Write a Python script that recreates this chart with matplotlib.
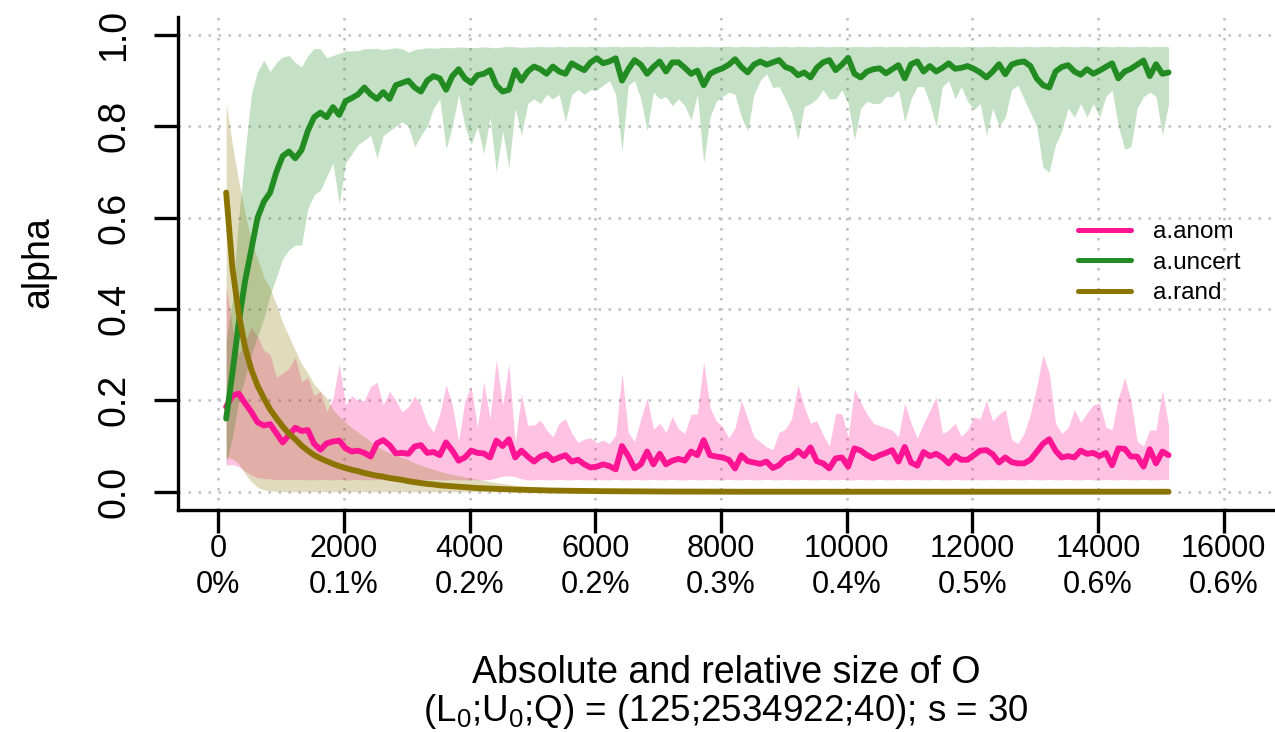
import numpy as np
import matplotlib
matplotlib.use("Agg")
import matplotlib.pyplot as plt
from matplotlib.lines import Line2D

plt.rcParams['font.family'] = ['Liberation Sans', 'DejaVu Sans']
plt.rcParams['mathtext.fontset'] = 'custom'
plt.rcParams['mathtext.rm'] = 'Liberation Sans'
plt.rcParams['mathtext.it'] = 'Liberation Sans:italic'

# sample sizes |O| (every 100 from 125)
sizes = np.arange(125, 15126, 100)

# a.anom : median and band
anom_med = [
    0.186, 0.21, 0.215, 0.194, 0.175, 0.152, 0.145, 0.148, 0.128, 0.108,
    0.124, 0.14, 0.133, 0.135, 0.105, 0.092, 0.106, 0.11, 0.112, 0.095,
    0.088, 0.09, 0.085, 0.077, 0.106, 0.113, 0.102, 0.084, 0.085, 0.083,
    0.099, 0.102, 0.085, 0.087, 0.08, 0.108, 0.09, 0.068, 0.075, 0.09,
    0.085, 0.084, 0.075, 0.112, 0.10, 0.115, 0.075, 0.09, 0.077, 0.066,
    0.077, 0.082, 0.069, 0.075, 0.08, 0.066, 0.07, 0.06, 0.053, 0.055,
    0.06, 0.056, 0.049, 0.10, 0.078, 0.051, 0.06, 0.088, 0.06, 0.083,
    0.06, 0.068, 0.072, 0.068, 0.088, 0.08, 0.113, 0.08, 0.077, 0.075,
    0.07, 0.051, 0.08, 0.067, 0.064, 0.061, 0.066, 0.052, 0.058, 0.072,
    0.076, 0.09, 0.078, 0.097, 0.067, 0.062, 0.051, 0.073, 0.075, 0.055,
    0.095, 0.09, 0.08, 0.073, 0.08, 0.085, 0.091, 0.066, 0.098, 0.064,
    0.057, 0.087, 0.078, 0.083, 0.075, 0.062, 0.079, 0.07, 0.07, 0.08,
    0.09, 0.091, 0.082, 0.064, 0.075, 0.065, 0.062, 0.062, 0.07, 0.087,
    0.105, 0.115, 0.09, 0.075, 0.078, 0.075, 0.09, 0.083, 0.085, 0.078,
    0.085, 0.058, 0.095, 0.094, 0.077, 0.077, 0.055, 0.093, 0.062, 0.088,
    0.08]
anom_lo = [
    0.058, 0.06, 0.055, 0.045, 0.036, 0.031, 0.029, 0.028, 0.027, 0.027,
    0.027, 0.026, 0.027, 0.026, 0.026, 0.027, 0.026, 0.026, 0.027, 0.026,
    0.026, 0.027, 0.026, 0.026, 0.027, 0.026, 0.026, 0.027, 0.026, 0.026,
    0.027, 0.026, 0.026, 0.027, 0.026, 0.026, 0.027, 0.026, 0.026, 0.027,
    0.026, 0.026, 0.027, 0.03, 0.034, 0.035, 0.033, 0.028, 0.026, 0.026,
    0.027, 0.026, 0.026, 0.027, 0.026, 0.026, 0.027, 0.026, 0.026, 0.027,
    0.026, 0.026, 0.027, 0.026, 0.026, 0.027, 0.026, 0.026, 0.027, 0.026,
    0.026, 0.027, 0.026, 0.026, 0.027, 0.026, 0.026, 0.027, 0.026, 0.026,
    0.027, 0.026, 0.026, 0.027, 0.026, 0.026, 0.027, 0.026, 0.026, 0.027,
    0.026, 0.026, 0.027, 0.026, 0.026, 0.027, 0.026, 0.026, 0.027, 0.026,
    0.026, 0.027, 0.026, 0.026, 0.027, 0.026, 0.026, 0.027, 0.026, 0.026,
    0.027, 0.026, 0.026, 0.027, 0.026, 0.026, 0.027, 0.026, 0.026, 0.027,
    0.026, 0.026, 0.027, 0.026, 0.026, 0.027, 0.026, 0.026, 0.027, 0.026,
    0.026, 0.027, 0.026, 0.026, 0.027, 0.026, 0.026, 0.027, 0.026, 0.026,
    0.027, 0.026, 0.026, 0.027, 0.026, 0.026, 0.027, 0.026, 0.026, 0.027,
    0.026]
anom_hi = [
    0.45, 0.36, 0.30, 0.33, 0.36, 0.34, 0.31, 0.30, 0.25, 0.26,
    0.27, 0.295, 0.24, 0.25, 0.21, 0.22, 0.175, 0.205, 0.28, 0.19,
    0.21, 0.20, 0.20, 0.23, 0.24, 0.19, 0.22, 0.20, 0.175, 0.186,
    0.21, 0.19, 0.15, 0.13, 0.17, 0.234, 0.19, 0.11, 0.20, 0.23,
    0.14, 0.241, 0.16, 0.29, 0.19, 0.28, 0.106, 0.215, 0.145, 0.146,
    0.157, 0.135, 0.12, 0.15, 0.16, 0.128, 0.108, 0.115, 0.118, 0.107,
    0.113, 0.105, 0.125, 0.26, 0.13, 0.11, 0.16, 0.205, 0.137, 0.15,
    0.13, 0.165, 0.137, 0.128, 0.17, 0.17, 0.285, 0.185, 0.155, 0.143,
    0.118, 0.14, 0.20, 0.16, 0.12, 0.11, 0.098, 0.092, 0.13, 0.137,
    0.16, 0.234, 0.186, 0.15, 0.155, 0.125, 0.10, 0.172, 0.17, 0.12,
    0.225, 0.195, 0.17, 0.15, 0.145, 0.14, 0.135, 0.12, 0.194, 0.15,
    0.117, 0.15, 0.178, 0.208, 0.128, 0.135, 0.15, 0.121, 0.135, 0.164,
    0.16, 0.20, 0.155, 0.17, 0.18, 0.115, 0.105, 0.128, 0.17, 0.23,
    0.30, 0.26, 0.15, 0.128, 0.14, 0.18, 0.152, 0.172, 0.19, 0.194,
    0.142, 0.135, 0.205, 0.25, 0.20, 0.11, 0.10, 0.135, 0.135, 0.222,
    0.145]

# a.uncert : median and band
uncert_med = [
    0.16, 0.26, 0.37, 0.46, 0.53, 0.60, 0.635, 0.655, 0.70, 0.735,
    0.745, 0.73, 0.748, 0.79, 0.82, 0.83, 0.82, 0.842, 0.825, 0.855,
    0.862, 0.87, 0.885, 0.87, 0.86, 0.875, 0.86, 0.89, 0.895, 0.90,
    0.885, 0.876, 0.90, 0.91, 0.905, 0.88, 0.91, 0.925, 0.905, 0.895,
    0.912, 0.915, 0.923, 0.89, 0.876, 0.88, 0.923, 0.90, 0.92, 0.931,
    0.925, 0.915, 0.931, 0.92, 0.915, 0.938, 0.93, 0.923, 0.94, 0.949,
    0.938, 0.942, 0.949, 0.90, 0.925, 0.945, 0.935, 0.915, 0.93, 0.942,
    0.92, 0.94, 0.94, 0.928, 0.915, 0.922, 0.89, 0.915, 0.922, 0.927,
    0.935, 0.947, 0.93, 0.918, 0.935, 0.942, 0.935, 0.94, 0.945, 0.93,
    0.925, 0.912, 0.918, 0.907, 0.928, 0.94, 0.945, 0.923, 0.935, 0.95,
    0.915, 0.907, 0.92, 0.925, 0.927, 0.916, 0.925, 0.934, 0.905, 0.936,
    0.942, 0.92, 0.932, 0.92, 0.928, 0.938, 0.926, 0.928, 0.932, 0.926,
    0.918, 0.907, 0.92, 0.936, 0.914, 0.935, 0.94, 0.942, 0.932, 0.905,
    0.89, 0.885, 0.92, 0.93, 0.934, 0.92, 0.913, 0.925, 0.915, 0.922,
    0.93, 0.938, 0.905, 0.92, 0.926, 0.935, 0.944, 0.91, 0.936, 0.915,
    0.918]
uncert_lo = [
    0.06, 0.12, 0.20, 0.25, 0.30, 0.34, 0.38, 0.43, 0.47, 0.51,
    0.53, 0.54, 0.54, 0.62, 0.65, 0.66, 0.69, 0.72, 0.63, 0.72,
    0.74, 0.76, 0.77, 0.78, 0.73, 0.78, 0.79, 0.80, 0.81, 0.80,
    0.755, 0.78, 0.80, 0.84, 0.86, 0.75, 0.80, 0.87, 0.80, 0.76,
    0.80, 0.74, 0.82, 0.70, 0.79, 0.71, 0.84, 0.78, 0.85, 0.86,
    0.85, 0.87, 0.86, 0.87, 0.81, 0.87, 0.88, 0.87, 0.88, 0.88,
    0.89, 0.90, 0.87, 0.745, 0.89, 0.90, 0.86, 0.79, 0.875, 0.86,
    0.865, 0.845, 0.86, 0.845, 0.814, 0.87, 0.72, 0.82, 0.855, 0.865,
    0.875, 0.87, 0.82, 0.79, 0.87, 0.90, 0.915, 0.885, 0.887, 0.86,
    0.83, 0.77, 0.843, 0.85, 0.86, 0.88, 0.86, 0.86, 0.88, 0.85,
    0.77, 0.84, 0.855, 0.85, 0.85, 0.865, 0.865, 0.88, 0.81, 0.86,
    0.887, 0.887, 0.85, 0.80, 0.887, 0.90, 0.86, 0.887, 0.855, 0.836,
    0.85, 0.78, 0.84, 0.80, 0.82, 0.88, 0.89, 0.86, 0.83, 0.80,
    0.71, 0.70, 0.76, 0.79, 0.84, 0.82, 0.85, 0.82, 0.85, 0.82,
    0.865, 0.88, 0.80, 0.75, 0.755, 0.84, 0.865, 0.875, 0.865, 0.78,
    0.85]
uncert_hi = [
    0.33, 0.42, 0.60, 0.74, 0.87, 0.92, 0.945, 0.92, 0.94, 0.952,
    0.955, 0.94, 0.93, 0.955, 0.97, 0.97, 0.95, 0.955, 0.96, 0.965,
    0.965, 0.966, 0.97, 0.97, 0.971, 0.968, 0.97, 0.972, 0.97, 0.962,
    0.968, 0.97, 0.972, 0.971, 0.972, 0.973, 0.972, 0.974, 0.973, 0.972,
    0.973, 0.974, 0.973, 0.972, 0.974, 0.975, 0.974, 0.973, 0.974, 0.974,
    0.975, 0.974, 0.974, 0.975, 0.974, 0.975, 0.975, 0.974, 0.975, 0.975,
    0.974, 0.975, 0.975, 0.974, 0.975, 0.975, 0.974, 0.975, 0.975, 0.974,
    0.975, 0.975, 0.974, 0.975, 0.975, 0.974, 0.975, 0.975, 0.974, 0.975,
    0.975, 0.974, 0.975, 0.975, 0.974, 0.975, 0.975, 0.974, 0.975, 0.975,
    0.974, 0.975, 0.975, 0.974, 0.975, 0.975, 0.974, 0.975, 0.975, 0.974,
    0.975, 0.975, 0.974, 0.975, 0.975, 0.974, 0.975, 0.975, 0.974, 0.975,
    0.975, 0.974, 0.975, 0.975, 0.974, 0.975, 0.975, 0.974, 0.975, 0.975,
    0.974, 0.975, 0.975, 0.974, 0.975, 0.975, 0.974, 0.975, 0.975, 0.974,
    0.975, 0.975, 0.974, 0.975, 0.975, 0.974, 0.975, 0.975, 0.974, 0.975,
    0.975, 0.974, 0.975, 0.975, 0.974, 0.975, 0.975, 0.974, 0.975, 0.975,
    0.974]

# a.rand : median and band
rand_med = [
    0.655, 0.49, 0.39, 0.317, 0.268, 0.232, 0.205, 0.18, 0.161, 0.143,
    0.127, 0.115, 0.101, 0.09, 0.08, 0.073, 0.067, 0.061, 0.056, 0.052,
    0.048, 0.045, 0.041, 0.038, 0.035, 0.033, 0.030, 0.028, 0.026, 0.023,
    0.021, 0.019, 0.017, 0.016, 0.014, 0.013, 0.012, 0.011, 0.010, 0.009,
    0.008, 0.0075, 0.007, 0.0063, 0.0057, 0.0052, 0.0047, 0.0043, 0.0039, 0.0035,
    0.0032, 0.0029, 0.0026, 0.0024, 0.0022, 0.002, 0.0018, 0.0016, 0.0015, 0.0013,
    0.0012, 0.0011, 0.001, 0.0009, 0.0008, 0.0007, 0.0007, 0.0006, 0.0005, 0.0005,
    0.0004, 0.0004, 0.0003, 0.0003, 0.0003, 0.0002, 0.0002, 0.0002, 0.0002, 0.0001,
    0.0, 0.0, 0.0, 0.0, 0.0, 0.0, 0.0, 0.0, 0.0, 0.0,
    0.0, 0.0, 0.0, 0.0, 0.0, 0.0, 0.0, 0.0, 0.0, 0.0,
    0.0, 0.0, 0.0, 0.0, 0.0, 0.0, 0.0, 0.0, 0.0, 0.0,
    0.0, 0.0, 0.0, 0.0, 0.0, 0.0, 0.0, 0.0, 0.0, 0.0,
    0.0, 0.0, 0.0, 0.0, 0.0, 0.0, 0.0, 0.0, 0.0, 0.0,
    0.0, 0.0, 0.0, 0.0, 0.0, 0.0, 0.0, 0.0, 0.0, 0.0,
    0.0, 0.0, 0.0, 0.0, 0.0, 0.0, 0.0, 0.0, 0.0, 0.0,
    0.0]
rand_lo = [
    0.075, 0.072, 0.062, 0.04, 0.022, 0.01, 0.004, 0.002, 0.001, 0.0,
    0.0, 0.0, 0.0, 0.0, 0.0, 0.0, 0.0, 0.0, 0.0, 0.0,
    0.0, 0.0, 0.0, 0.0, 0.0, 0.0, 0.0, 0.0, 0.0, 0.0,
    0.0, 0.0, 0.0, 0.0, 0.0, 0.0, 0.0, 0.0, 0.0, 0.0,
    0.0, 0.0, 0.0, 0.0, 0.0, 0.0, 0.0, 0.0, 0.0, 0.0,
    0.0, 0.0, 0.0, 0.0, 0.0, 0.0, 0.0, 0.0, 0.0, 0.0,
    0.0, 0.0, 0.0, 0.0, 0.0, 0.0, 0.0, 0.0, 0.0, 0.0,
    0.0, 0.0, 0.0, 0.0, 0.0, 0.0, 0.0, 0.0, 0.0, 0.0,
    0.0, 0.0, 0.0, 0.0, 0.0, 0.0, 0.0, 0.0, 0.0, 0.0,
    0.0, 0.0, 0.0, 0.0, 0.0, 0.0, 0.0, 0.0, 0.0, 0.0,
    0.0, 0.0, 0.0, 0.0, 0.0, 0.0, 0.0, 0.0, 0.0, 0.0,
    0.0, 0.0, 0.0, 0.0, 0.0, 0.0, 0.0, 0.0, 0.0, 0.0,
    0.0, 0.0, 0.0, 0.0, 0.0, 0.0, 0.0, 0.0, 0.0, 0.0,
    0.0, 0.0, 0.0, 0.0, 0.0, 0.0, 0.0, 0.0, 0.0, 0.0,
    0.0, 0.0, 0.0, 0.0, 0.0, 0.0, 0.0, 0.0, 0.0, 0.0,
    0.0]
rand_hi = [
    0.85, 0.76, 0.68, 0.61, 0.55, 0.51, 0.47, 0.445, 0.41, 0.37,
    0.34, 0.31, 0.28, 0.26, 0.235, 0.22, 0.205, 0.18, 0.165, 0.152,
    0.14, 0.13, 0.12, 0.11, 0.10, 0.092, 0.085, 0.08, 0.075, 0.07,
    0.063, 0.058, 0.053, 0.049, 0.045, 0.041, 0.038, 0.035, 0.032, 0.03,
    0.027, 0.025, 0.022, 0.02, 0.018, 0.016, 0.014, 0.013, 0.012, 0.011,
    0.01, 0.009, 0.008, 0.0075, 0.007, 0.0065, 0.006, 0.0055, 0.005, 0.0045,
    0.004, 0.0035, 0.003, 0.003, 0.0025, 0.002, 0.002, 0.0018, 0.0016, 0.0014,
    0.0012, 0.001, 0.001, 0.0009, 0.0008, 0.0007, 0.0006, 0.0005, 0.0005, 0.0004,
    0.0, 0.0, 0.0, 0.0, 0.0, 0.0, 0.0, 0.0, 0.0, 0.0,
    0.0, 0.0, 0.0, 0.0, 0.0, 0.0, 0.0, 0.0, 0.0, 0.0,
    0.0, 0.0, 0.0, 0.0, 0.0, 0.0, 0.0, 0.0, 0.0, 0.0,
    0.0, 0.0, 0.0, 0.0, 0.0, 0.0, 0.0, 0.0, 0.0, 0.0,
    0.0, 0.0, 0.0, 0.0, 0.0, 0.0, 0.0, 0.0, 0.0, 0.0,
    0.0, 0.0, 0.0, 0.0, 0.0, 0.0, 0.0, 0.0, 0.0, 0.0,
    0.0, 0.0, 0.0, 0.0, 0.0, 0.0, 0.0, 0.0, 0.0, 0.0,
    0.0]

xtick_vals = [0, 2000, 4000, 6000, 8000, 10000, 12000, 14000, 16000]
xtick_pct = ["0%", "0.1%", "0.2%", "0.2%", "0.3%", "0.4%", "0.5%", "0.6%", "0.6%"]
ytick_vals = [0.0, 0.2, 0.4, 0.6, 0.8, 1.0]
labels = ["a.anom", "a.uncert", "a.rand"]
colors = ["#FF1493", "#228B22", "#8B7500"]

W, H = 1275, 732
fig = plt.figure(figsize=(W / 100, H / 100), dpi=100)
ax = fig.add_axes([177.7 / W, (H - 510) / H, (W - 177.7) / W, (510 - 16.7) / H])

series = [(anom_med, anom_lo, anom_hi), (uncert_med, uncert_lo, uncert_hi),
          (rand_med, rand_lo, rand_hi)]
for (med, lo, hi), col in zip(series, colors):
    ax.fill_between(sizes, lo, hi, color=col, alpha=0.26, linewidth=0, zorder=2)
    ax.plot(sizes, med, color=col, lw=4.2, solid_capstyle='round',
            solid_joinstyle='round', zorder=3)

ax.set_xlim(-646, 16818)
ax.set_ylim(-0.04, 1.04)
ax.set_xticks(xtick_vals)
ax.set_xticklabels([f"{v}\n{p}" for v, p in zip(xtick_vals, xtick_pct)],
                   linespacing=1.26)
ax.set_yticks(ytick_vals)
ax.set_yticklabels([f"{v:.1f}" for v in ytick_vals])
for t in ax.get_yticklabels():
    t.set_rotation(90)
    t.set_va('center')

ax.grid(True, color='#BEBEBE', lw=1.8, linestyle=(0, (1.0, 3.0)))
ax.set_axisbelow(True)

for s in ['top', 'right']:
    ax.spines[s].set_visible(False)
for s in ['left', 'bottom']:
    ax.spines[s].set_linewidth(2.4)
ax.tick_params(axis='x', length=16.5, width=2.4, labelsize=22, pad=1.0)
ax.tick_params(axis='y', length=17, width=2.4, labelsize=27, pad=15.5)

handles = [Line2D([], [], color=c, lw=3.6, solid_capstyle='round') for c in colors]
fig.legend(handles, labels, loc='center left',
           bbox_to_anchor=(1078 / W, (H - 262.7) / H), frameon=False,
           fontsize=17.5, handlelength=2.18, handletextpad=0.9,
           labelspacing=0.35, borderpad=0, borderaxespad=0)

fig.text(38.5 / W, (H - 262.5) / H, "alpha", rotation=90, ha='center',
         va='center', fontsize=27)
cx = (177.7 + W) / 2 / W
fig.text(cx, (H - 683.3) / H, "Absolute and relative size of O",
         ha='center', va='baseline', fontsize=27)
fig.text(cx, (H - 721) / H,
         r"(L$_0$;U$_0$;Q) = (125;2534922;40); s = 30",
         ha='center', va='baseline', fontsize=26.5)

fig.savefig("out.png", dpi=100)
